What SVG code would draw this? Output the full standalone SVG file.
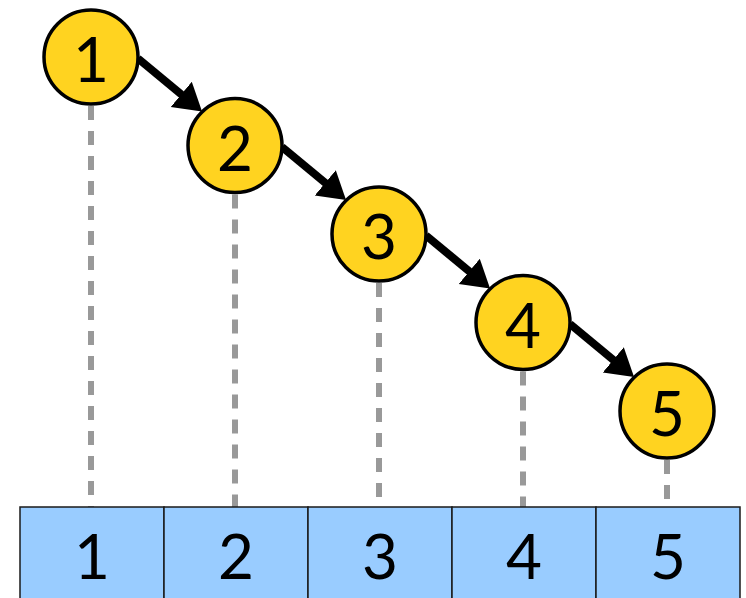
<svg xmlns="http://www.w3.org/2000/svg" width="746" height="598" viewBox="0 0 746 598">
<style>
.node circle{fill:#FFD320;stroke:#000;stroke-width:3.5}
.lbl{font-family:Lato,"DejaVu Sans",sans-serif;font-size:62px;text-anchor:middle;fill:#000}
.cell rect{fill:#99CCFF;stroke:#1a1a1a;stroke-width:1.5}
.dash{stroke:#999;stroke-width:6;stroke-dasharray:14 11}
.arrow{stroke:#000;stroke-width:8;marker-end:url(#ah)}
</style>
<defs>
<marker id="ah" markerUnits="userSpaceOnUse" markerWidth="30" markerHeight="36" viewBox="0 -18 30 36" refX="12" refY="0" orient="auto">
<path d="M0,-16.5 L27,0 L0,16.5 z" fill="#000"/>
</marker>
</defs>
<g id="dashes">
<line class="dash" x1="91" y1="106" x2="91" y2="507"/>
<line class="dash" x1="235" y1="194.5" x2="235" y2="507"/>
<line class="dash" x1="379" y1="283" x2="379" y2="507"/>
<line class="dash" x1="523" y1="371.5" x2="523" y2="507"/>
<line class="dash" x1="667" y1="460" x2="667" y2="507"/>
</g>
<g id="array">
<g id="cell1" class="cell"><rect x="20" y="507" width="144" height="93"/><text class="lbl" x="92" y="579">1</text></g>
<g id="cell2" class="cell"><rect x="164" y="507" width="144" height="93"/><text class="lbl" x="236" y="579">2</text></g>
<g id="cell3" class="cell"><rect x="308" y="507" width="144" height="93"/><text class="lbl" x="380" y="579">3</text></g>
<g id="cell4" class="cell"><rect x="452" y="507" width="144" height="93"/><text class="lbl" x="524" y="579">4</text></g>
<g id="cell5" class="cell"><rect x="596" y="507" width="144" height="93"/><text class="lbl" x="668" y="579">5</text></g>
</g>
<g id="connectors">
<line class="arrow" x1="138" y1="58.5" x2="190.5" y2="102"/>
<line class="arrow" x1="282" y1="147" x2="334.5" y2="190.5"/>
<line class="arrow" x1="426" y1="235.5" x2="478.5" y2="279"/>
<line class="arrow" x1="570" y1="324" x2="622.5" y2="367.5"/>
</g>
<g id="node1" class="node"><circle cx="91" cy="57" r="47"/><text class="lbl" x="91" y="82">1</text></g>
<g id="node2" class="node"><circle cx="235" cy="145.5" r="47"/><text class="lbl" x="235" y="170.5">2</text></g>
<g id="node3" class="node"><circle cx="379" cy="234" r="47"/><text class="lbl" x="379" y="259">3</text></g>
<g id="node4" class="node"><circle cx="523" cy="322.5" r="47"/><text class="lbl" x="523" y="347.5">4</text></g>
<g id="node5" class="node"><circle cx="667" cy="411" r="47"/><text class="lbl" x="667" y="436">5</text></g>
</svg>
